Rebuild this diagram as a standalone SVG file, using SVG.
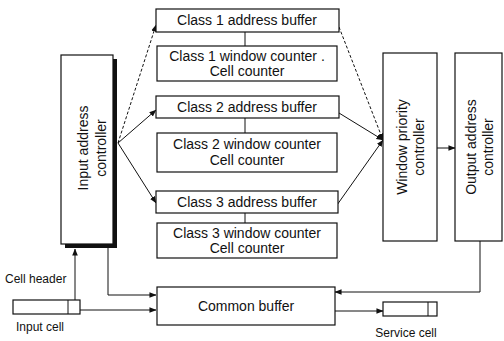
<svg xmlns="http://www.w3.org/2000/svg" width="504" height="341" viewBox="0 0 504 341">
<defs>
<style>
.box{fill:#fff;stroke:#111;stroke-width:1.2}
.t{font-family:"Liberation Sans",Arial,sans-serif;font-size:14px;fill:#111;text-anchor:middle}
.s{font-family:"Liberation Sans",Arial,sans-serif;font-size:12px;fill:#111;text-anchor:middle}
.c{fill:none;stroke:#111;stroke-width:1}
.d{stroke-dasharray:3 2}
</style>
<marker id="a" viewBox="0 0 8 8" refX="7.5" refY="4" markerWidth="7" markerHeight="7" markerUnits="userSpaceOnUse" orient="auto">
<path d="M0,0.8 L8,4 L0,7.2 Z" fill="#111"/>
</marker>
</defs>
<rect width="504" height="341" fill="#fff"/>
<g id="connectors">
<path class="c d" d="M118,143 L156,25" marker-end="url(#a)"/>
<path class="c" d="M118,143 L156,110" marker-end="url(#a)"/>
<path class="c" d="M118,143 L156,203" marker-end="url(#a)"/>
<path class="c" d="M245,32 V46 M245,118 V133 M245,213 V223"/>
<path class="c d" d="M339,27 L383,140" marker-end="url(#a)"/>
<path class="c" d="M339,113 L383,140" marker-end="url(#a)"/>
<path class="c" d="M337,205 L383,140" marker-end="url(#a)"/>
<path class="c" d="M437,148 H455" marker-end="url(#a)"/>
<path class="c" d="M108,248 V295 H156" marker-end="url(#a)"/>
<path class="c" d="M75,300 V249" marker-end="url(#a)"/>
<path class="c" d="M80,310 H156" marker-end="url(#a)"/>
<path class="c" d="M335,311 H383" marker-end="url(#a)"/>
<path class="c" d="M480,241 V292 H335" marker-end="url(#a)"/>
</g>
<g id="input-address-controller">
<rect x="65" y="59" width="52" height="189" fill="#111"/>
<rect class="box" x="61" y="55" width="52" height="189"/>
<text class="t" transform="translate(88,148) rotate(-90)"><tspan x="0" y="0">Input address</tspan><tspan x="0" y="18">controller</tspan></text>
</g>
<g id="class1-address-buffer">
<rect class="box" x="156" y="9" width="183" height="23"/>
<text class="t" x="247" y="25">Class 1 address buffer</text>
</g>
<g id="class1-window-counter">
<rect class="box" x="157" y="46" width="180" height="35"/>
<text class="t" x="247" y="61">Class 1 window counter .</text>
<text class="t" x="247" y="76">Cell counter</text>
</g>
<g id="class2-address-buffer">
<rect class="box" x="156" y="96" width="183" height="22"/>
<text class="t" x="247" y="112">Class 2 address buffer</text>
</g>
<g id="class2-window-counter">
<rect class="box" x="157" y="133" width="180" height="39"/>
<text class="t" x="247" y="149">Class 2 window counter</text>
<text class="t" x="247" y="165">Cell counter</text>
</g>
<g id="class3-address-buffer">
<rect class="box" x="156" y="191" width="182" height="22"/>
<text class="t" x="247" y="207">Class 3 address buffer</text>
</g>
<g id="class3-window-counter">
<rect class="box" x="157" y="223" width="180" height="35"/>
<text class="t" x="247" y="238">Class 3 window counter</text>
<text class="t" x="247" y="253">Cell counter</text>
</g>
<g id="window-priority-controller">
<rect class="box" x="383" y="53" width="54" height="188"/>
<text class="t" transform="translate(410,147) rotate(-90)"><tspan x="0" y="-3">Window priority</tspan><tspan x="0" y="14">controller</tspan></text>
</g>
<g id="output-address-controller">
<rect class="box" x="455" y="53" width="47" height="188"/>
<text class="t" transform="translate(479,147) rotate(-90)"><tspan x="0" y="-3">Output address</tspan><tspan x="0" y="14">controller</tspan></text>
</g>
<g id="common-buffer">
<rect class="box" x="157" y="287" width="178" height="38"/>
<text class="t" x="246" y="311">Common buffer</text>
</g>
<g id="input-cell">
<rect class="box" x="13" y="300" width="67" height="14"/>
<path class="c" d="M68,300 V314"/>
<text class="s" x="5" y="283" style="text-anchor:start">Cell header</text>
<text class="s" x="40" y="331">Input cell</text>
</g>
<g id="service-cell">
<rect class="box" x="383" y="302" width="54" height="14"/>
<path class="c" d="M428,302 V316"/>
<text class="s" x="406" y="337">Service cell</text>
</g>
</svg>
